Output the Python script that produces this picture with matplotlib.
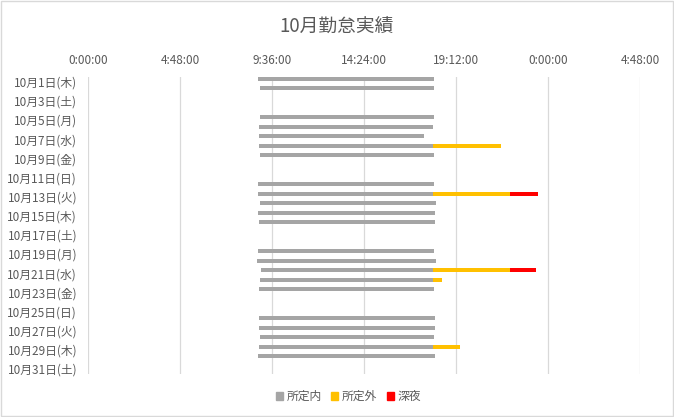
import matplotlib
matplotlib.use("Agg")
import matplotlib.pyplot as plt
from matplotlib.patches import Patch, Rectangle

plt.rcParams['font.family'] = ['Noto Sans CJK JP', 'DejaVu Sans']

# 10月の勤怠 (2020年)  None = 休日
days = list(range(1, 32))
weekdays = ['木', '金', '土', '日', '月', '火', '水'] * 5
start = ['8:51', '8:58', None, None, '8:58', '8:54', '8:54', '8:54', '8:58', None,
         None, '8:51', '8:51', '8:58', '8:51', '8:54', None, None, '8:51', '8:48',
         '9:01', '8:58', '8:54', None, None, '8:54', '8:54', '8:58', '8:54', '8:51', None]
end_in = ['18:02', '18:02', None, None, '18:02', '17:59', '17:31', '18:00', '18:02', None,
          None, '18:02', '18:00', '18:08', '18:05', '18:05', None, None, '18:02', '18:08',
          '18:00', '18:00', '18:02', None, None, '18:05', '18:05', '18:02', '18:00', '18:05', None]
end_out = {8: '21:32', 13: '22:00', 21: '22:00', 22: '18:27', 29: '19:23'}
end_night = {13: '23:28', 21: '23:22'}

gray = '#A5A5A5'
orange = '#FFC000'
red = '#FF0000'
txt = '#595959'


def hours(s):
    h, m = s.split(':')
    return int(h) + int(m) / 60


fig = plt.figure(figsize=(6.74, 4.17), dpi=100)
ax = fig.add_axes([0.131, 0.104, 0.819, 0.7115])

h = 0.42
off = 0.3
for i, d in enumerate(days):
    if start[i] is None:
        continue
    y = i - off
    s = hours(start[i])
    e1 = hours(end_in[i])
    ax.barh(y, e1 - s, left=s, height=h, color=gray)
    if d in end_out:
        e2 = hours(end_out[d])
        ax.barh(y, e2 - e1, left=e1, height=h, color=orange)
        if d in end_night:
            e3 = hours(end_night[d])
            ax.barh(y, e3 - e2, left=e2, height=h, color=red)

ax.set_xlim(0, 28.8)
ax.set_ylim(30.5, -0.5)
xt = [0, 4.8, 9.6, 14.4, 19.2, 24.0, 28.8]
ax.set_xticks(xt)
ax.set_xticklabels(['0:00:00', '4:48:00', '9:36:00', '14:24:00', '19:12:00', '0:00:00', '4:48:00'])
ax.xaxis.tick_top()
ax.set_yticks(range(0, 31, 2))
ax.set_yticklabels([f'10月{days[i]}日({weekdays[i]})' for i in range(0, 31, 2)])
ax.tick_params(axis='x', length=0, pad=7, labelsize=8.5, colors=txt)
ax.tick_params(axis='y', length=0, pad=8, labelsize=8.5, colors=txt)
ax.grid(axis='x', color='#D9D9D9', linewidth=0.9)
ax.set_axisbelow(True)
for sp in ax.spines.values():
    sp.set_visible(False)

fig.text(0.5, 0.935, '10月勤怠実績', ha='center', va='center', fontsize=13.5, color=txt)

handles = [Patch(color=gray, label='所定内'), Patch(color=orange, label='所定外'), Patch(color=red, label='深夜')]
fig.legend(handles=handles, loc='center', bbox_to_anchor=(0.517, 0.049), ncol=3, frameon=False,
           fontsize=8.5, handlelength=0.6, handleheight=0.6, handletextpad=0.3, columnspacing=0.8,
           labelcolor=txt)

fig.patches.append(Rectangle((0.001, 0.002), 0.997, 0.995, transform=fig.transFigure,
                             fill=False, edgecolor='#D9D9D9', linewidth=1))

fig.savefig('out.png', dpi=100)
